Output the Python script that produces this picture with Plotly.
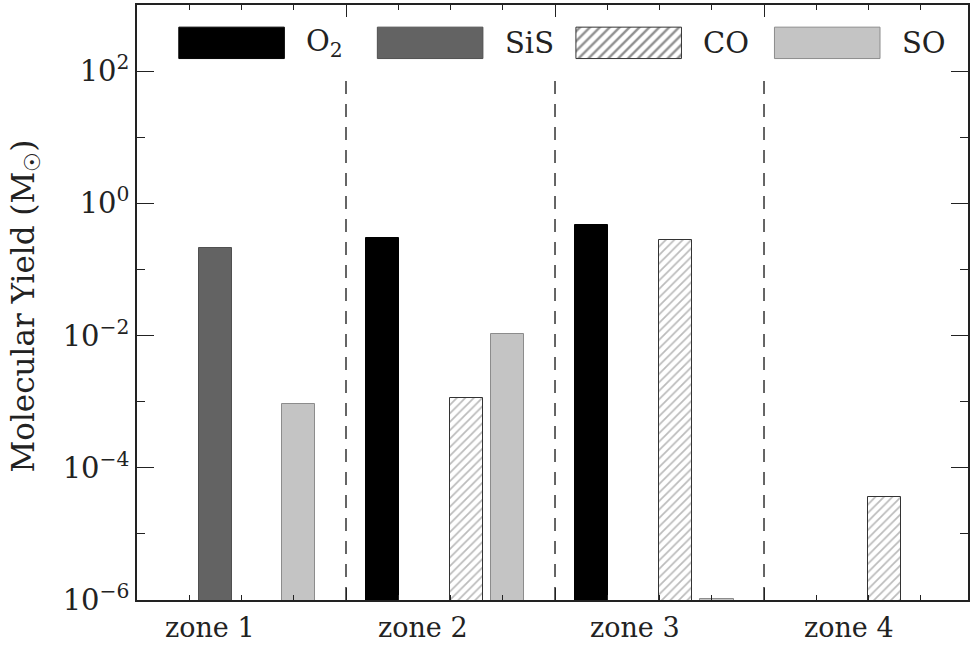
import math
import plotly.graph_objects as go

# ---- data ----
zones = ["zone 1", "zone 2", "zone 3", "zone 4"]
species = ["O<sub>2</sub>", "SiS", "CO", "SO"]
o2_yield = [None, 0.295, 0.47, None]
sis_yield = [0.21, None, None, None]
co_yield = [None, 1.15e-3, 0.275, 3.6e-5]
so_yield = [9.3e-4, 1.07e-2, 1.05e-6, None]
ytick_vals = [1e-6, 1e-4, 1e-2, 1e0, 1e2]
ytick_text = ["10<sup>−6</sup>", "10<sup>−4</sup>", "10<sup>−2</sup>", "10<sup>0</sup>", "10<sup>2</sup>"]
yminor_vals = [1e-5, 1e-3, 1e-1, 1e1, 1e3]
ylabel = "Molecular Yield (M<sub>☉</sub>)"

# ---- styling ----
FONT = "DejaVu Serif"
INK = "#222222"
series = [
    dict(name=species[0], vals=o2_yield, color="#000000", line="#000000", pattern=None),
    dict(name=species[1], vals=sis_yield, color="#636363", line="#505050", pattern=None),
    dict(name=species[2], vals=co_yield, color="#ffffff", line="#333333",
         pattern=dict(shape="/", size=6, solidity=0.28, fgcolor="#777777", bgcolor="#ffffff", fillmode="overlay")),
    dict(name=species[3], vals=so_yield, color="#c4c4c4", line="#8c8c8c", pattern=None),
]
slot_offsets = [0.175, 0.375, 0.575, 0.775]
bar_width = 0.158
YMIN, YMAX = -6, 3

fig = go.Figure()
for k, s in enumerate(series):
    xs = [i + slot_offsets[k] for i in range(len(zones))]
    marker = dict(color=s["color"], line=dict(color=s["line"], width=1))
    if s["pattern"]:
        marker["pattern"] = s["pattern"]
    fig.add_trace(go.Bar(x=xs, y=s["vals"], width=bar_width, marker=marker,
                         showlegend=False, hoverinfo="x+y"))

# ---- custom legend (boxes on the data axes) ----
box_left = [0.2, 1.15, 2.1, 3.05]
box_w = 0.505
yb0, yb1 = 10 ** 2.19, 10 ** 2.665
for k, s in enumerate(series):
    x0, x1 = box_left[k], box_left[k] + box_w
    kw = dict(x=[x0, x1, x1, x0, x0], y=[yb0, yb0, yb1, yb1, yb0], mode="lines",
              fill="toself", fillcolor=s["color"], line=dict(color=s["line"], width=1),
              showlegend=False, hoverinfo="skip")
    if s["pattern"]:
        kw["fillpattern"] = dict(shape="/", size=7, solidity=0.35, fgcolor="#222222", bgcolor="#ffffff")
    fig.add_trace(go.Scatter(**kw))
    fig.add_annotation(x=x1 + 0.095, xref="x", y=(2.43 - YMIN) / (YMAX - YMIN), yref="paper",
                       text=s["name"], showarrow=False, xanchor="left", yanchor="middle",
                       font=dict(family=FONT, size=29, color=INK))

# ---- zone dividers ----
for xv in [1, 2, 3]:
    fig.add_shape(type="line", xref="x", yref="paper", x0=xv, x1=xv, y0=0,
                  y1=(2 - YMIN) / (YMAX - YMIN),
                  line=dict(color="#333333", width=1.5, dash="13px,10px"), layer="below")

# ---- zone labels ----
zone_label_x = [0.35, 1.37, 2.385, 3.405]
for zx, zt in zip(zone_label_x, zones):
    fig.add_annotation(x=zx, xref="x", y=0, yref="paper", yshift=-27, text=zt,
                       showarrow=False, xanchor="center", yanchor="middle",
                       font=dict(family=FONT, size=27, color=INK))

# ---- y title ----
fig.add_annotation(x=0, xref="paper", xshift=-112, y=0.5, yref="paper", yshift=-4,
                   text=ylabel, textangle=-90, showarrow=False, xanchor="center",
                   yanchor="middle", font=dict(family=FONT, size=31, color=INK))

minor_x = [i + f for i in range(4) for f in (0.25, 0.5, 0.75)]
fig.update_xaxes(range=[0, 3.976], tickmode="array", tickvals=[0, 1, 2, 3, 4],
                 showticklabels=False, ticks="inside", ticklen=12, tickwidth=1.3,
                 tickcolor=INK, showline=True, linecolor=INK, linewidth=1.5,
                 mirror="ticks", showgrid=False, zeroline=False,
                 minor=dict(tickmode="array", tickvals=minor_x, ticks="inside",
                            ticklen=5, tickwidth=1.3, tickcolor=INK, showgrid=False))
fig.update_yaxes(type="log", range=[YMIN, YMAX], tickmode="array", tickvals=ytick_vals,
                 ticktext=ytick_text, ticks="inside", ticklen=17, tickwidth=1.3,
                 tickcolor=INK, showline=True, linecolor=INK, linewidth=1.5,
                 mirror="ticks", showgrid=False, zeroline=False,
                 tickfont=dict(family=FONT, size=29, color=INK),
                 minor=dict(tickmode="array", tickvals=yminor_vals, ticks="inside",
                            ticklen=8, tickwidth=1.3, tickcolor=INK, showgrid=False))
fig.update_layout(width=970, height=647, margin=dict(l=137, r=0, t=5, b=47),
                  paper_bgcolor="white", plot_bgcolor="white", bargap=0,
                  font=dict(family=FONT, color=INK))
fig.write_html("out.html", config={"displayModeBar": False},
               post_script="document.body.style.margin='0';document.body.style.overflow='hidden';")
